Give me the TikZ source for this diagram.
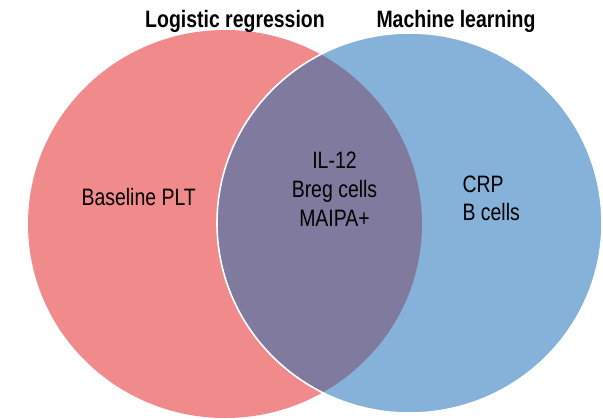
\documentclass[tikz,border=0pt]{standalone}
\usepackage{fontspec}
\setmainfont{Liberation Sans}[FakeStretch=0.82]
\definecolor{pinkfill}{RGB}{241,139,139}
\definecolor{bluefill}{RGB}{134,177,216}
\definecolor{overlapfill}{RGB}{128,122,158}
\tikzset{every picture/.style={line width=0.75pt}}
\tikzset{
  setlabel/.style={inner sep=0.75pt, font=\fontsize{17.8}{21.5}\selectfont\bfseries},
  itemlabel/.style={inner sep=0.75pt, font=\fontsize{17.8}{21.5}\selectfont},
}

\begin{document}
\begin{tikzpicture}[x=0.75pt,y=0.75pt,yscale=-1,xscale=1]
	\path [use as bounding box] (0,0) rectangle (603,418);
	
	%Shape: Ellipse [id:logistic]
	\fill [pinkfill] (225,224) ellipse [x radius=197, y radius=194];
	%Shape: Ellipse [id:machine]
	\fill [bluefill] (409.5,223) ellipse [x radius=192.5, y radius=190];
	%Shape: Overlap
	\begin{scope}
		\clip (225,224) ellipse [x radius=197, y radius=194];
		\fill [overlapfill] (409.5,223) ellipse [x radius=192.5, y radius=190];
	\end{scope}
	%Shape: Ellipse outline [id:machine]
	\draw [white, line width=1.2] (409.5,223) ellipse [x radius=192.5, y radius=190];
	
	% Text Node
	\node [setlabel, anchor=base] (lrtitle) at (235,27) {Logistic regression};
	% Text Node
	\node [setlabel, anchor=base] (mltitle) at (456,27) {Machine learning};
	% Text Node
	\node [itemlabel] (lronly) at (138.7,196.7) {Baseline PLT};
	% Text Node
	\node [itemlabel, align=center] (both) at (334.5,189.2) {IL-12\\Breg cells\\MAIPA+};
	% Text Node
	\node [itemlabel, align=left, anchor=west] (mlonly) at (461,198.3) {CRP\\B cells};
	
\end{tikzpicture}
\end{document}
